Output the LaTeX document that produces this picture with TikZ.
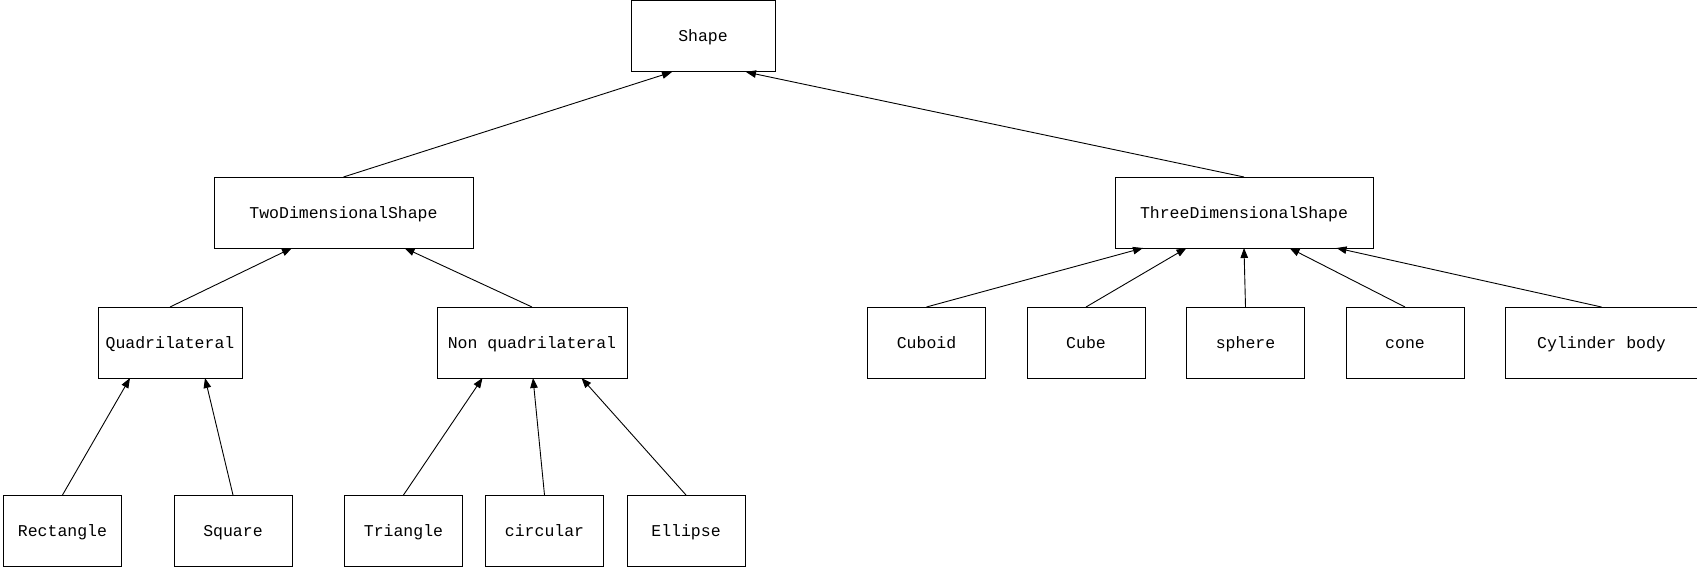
\documentclass[tikz,border=0pt]{standalone}
\usepackage{fontspec}
\setmonofont{Liberation Mono}
\usepackage{tikz}
\usetikzlibrary{positioning,arrows.meta}

\begin{document}
\begin{tikzpicture}[x=1pt, y=-1pt, box/.style={draw, line width=1pt, outer sep=0pt, inner sep=0pt, minimum width=118pt, minimum height=71pt, text height=11pt, text depth=0pt, font=\ttfamily\fontsize{16.5}{20}\selectfont}, arr/.style={-{Triangle[length=10pt, width=7.5pt]}, line width=0.9pt}]
\useasboundingbox (0,0) rectangle (1697,567);
\node[box, minimum width=144pt] (shape) at (703,36.5) {Shape};
\node[box, minimum width=259pt] (twod) at (343.5,212.5) {TwoDimensionalShape};
\node[box, minimum width=258pt] (threed) at (1244,212.5) {ThreeDimensionalShape};
\node[box, minimum width=144pt] (quad) at (170,342.5) {Quadrilateral};
\node[box, minimum width=190pt] (nonquad) at (532,342.5) {Non quadrilateral};
\node[box] (rect) at (62.5,530.5) {Rectangle};
\node[box, right=52.5pt of rect] (square) {Square};
\node[box, right=52.5pt of square] (triangle) {Triangle};
\node[box, right=23pt of triangle] (circular) {circular};
\node[box, right=23.5pt of circular] (ellipse) {Ellipse};
\node[box] (cuboid) at (926.5,342.5) {Cuboid};
\node[box, right=41.5pt of cuboid] (cube) {Cube};
\node[box, right=41.5pt of cube] (sphere) {sphere};
\node[box, right=41.5pt of sphere] (cone) {cone};
\node[box, minimum width=192pt, right=41.5pt of cone] (cylinder) {Cylinder body};
\draw[arr] (twod.north) -- ([xshift=-31pt]shape.south);
\draw[arr] (threed.north) -- ([xshift=43pt]shape.south);
\draw[arr] (quad.north) -- ([xshift=-51.5pt]twod.south);
\draw[arr] (nonquad.north) -- ([xshift=61pt]twod.south);
\draw[arr] (rect.north) -- ([xshift=-40pt]quad.south);
\draw[arr] (square.north) -- ([xshift=35pt]quad.south);
\draw[arr] (triangle.north) -- ([xshift=-49.5pt]nonquad.south);
\draw[arr] (circular.north) -- ([xshift=1pt]nonquad.south);
\draw[arr] (ellipse.north) -- ([xshift=49.5pt]nonquad.south);
\draw[arr] (cuboid.north) -- ([xshift=-101pt]threed.south);
\draw[arr] (cube.north) -- ([xshift=-57.5pt]threed.south);
\draw[arr] (sphere.north) -- (threed.south);
\draw[arr] (cone.north) -- ([xshift=45.5pt]threed.south);
\draw[arr] (cylinder.north) -- ([xshift=92.5pt]threed.south);
\end{tikzpicture}
\end{document}
